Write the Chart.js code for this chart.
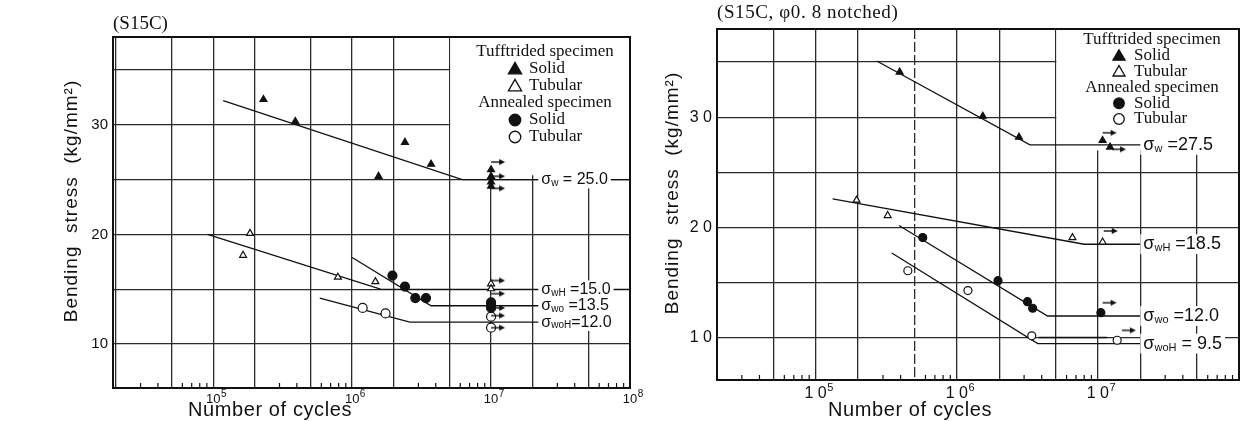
<!DOCTYPE html>
<html>
<head>
<meta charset="utf-8">
<script src="https://cdn.jsdelivr.net/npm/chart.js@4.4.1/dist/chart.umd.min.js"></script>
<style>
  html, body { margin: 0; padding: 0; background: #fff; }
  #wrap { position: relative; width: 1255px; height: 421px; overflow: hidden; }
  .box { position: absolute; top: 0; height: 421px; }
  #left-box { left: 0; width: 650px; }
  #right-box { left: 645px; width: 610px; }
</style>
</head>
<body>
<div id="wrap">
  <div class="box" id="left-box"><canvas id="left"></canvas></div>
  <div class="box" id="right-box"><canvas id="right"></canvas></div>
</div>
<script>
// ---------- data: left chart (S15C) ----------
// points are [cycles, stress kg/mm2]
const leftTuffSolid = [[2.3e5, 32.3], [3.9e5, 30.3], [1.55e6, 25.3], [2.4e6, 28.4], [3.7e6, 26.4],
                       [1e7, 25.9], [1e7, 25.3], [1e7, 24.8], [1e7, 24.4]];
const leftTuffTubular = [[1.84e5, 20.1], [1.64e5, 18.1], [7.9e5, 16.1], [1.47e6, 15.7], [1e7, 15.5], [1e7, 15.05]];
const leftAnnSolid = [[1.95e6, 16.25], [2.4e6, 15.25], [2.85e6, 14.2], [3.4e6, 14.2], [1e7, 13.8], [1e7, 13.5], [1e7, 13.3]];
const leftAnnTubular = [[1.19e6, 13.3], [1.74e6, 12.8], [1e7, 12.5], [1e7, 11.5]];
const leftRunouts = [[1e7, 26.6], [1e7, 25.3], [1e7, 24.2], [1e7, 15.8], [1e7, 14.6], [1e7, 13.3], [1e7, 12.6], [1e7, 11.5]];

const leftCurveTuffSolid = [[1.18e5, 32.2], [6.2e6, 25.0], [1e8, 25.0]];
const leftCurveTuffTubular = [[9.1e4, 20.0], [1.62e6, 15.0], [1e8, 15.0]];
const leftCurveAnnSolid = [[1e6, 17.9], [3.7e6, 13.5], [2.3e7, 13.5]];
const leftCurveAnnTubular = [[5.85e5, 14.2], [2.6e6, 12.0], [2.3e7, 12.0]];

const leftLimits = [25.0, 15.0, 13.5, 12.0];
const leftLimitSubs = ['w', 'wH', 'wo', 'woH'];
const leftLimitTexts = [' = 25.0', ' =15.0', ' =13.5', '=12.0'];

const leftXDecades = [1e5, 1e6, 1e7, 1e8];
const leftXBase = ['10', '10', '10', '10'];
const leftXExp = ['5', '6', '7', '8'];
const leftYTicks = [10, 20, 30];
const leftYLabels = ['10', '20', '30'];

// ---------- data: right chart (S15C, notched) ----------
const rightTuffSolid = [[3.94e5, 34.1], [1.53e6, 30.1], [2.76e6, 28.2], [1.08e7, 27.9], [1.22e7, 27.3]];
const rightTuffTubular = [[1.95e5, 22.5], [3.24e5, 21.1], [6.6e6, 19.1], [1.08e7, 18.7]];
const rightAnnSolid = [[5.74e5, 19.1], [1.96e6, 15.2], [3.17e6, 13.3], [3.45e6, 12.7], [1.05e7, 12.3]];
const rightAnnTubular = [[4.5e5, 16.1], [1.2e6, 14.3], [3.4e6, 10.2], [1.37e7, 9.8]];
const rightRunouts = [[1.08e7, 28.6], [1.26e7, 27.1], [1.1e7, 19.7], [1.08e7, 13.2], [1.48e7, 10.7]];

const rightCurveTuffSolid = [[2.71e5, 35.1], [3.3e6, 27.5], [2.1e7, 27.5]];
const rightCurveTuffTubular = [[1.32e5, 22.6], [8.0e6, 18.5], [2.1e7, 18.5]];
const rightCurveAnnSolid = [[3.9e5, 20.2], [4.4e6, 12.0], [2.1e7, 12.0]];
const rightCurveAnnTubular = [[3.46e5, 17.7], [3.75e6, 9.5], [2.1e7, 9.5]];
const rightCurveAnnTubular2 = [[3.8e6, 10.05], [1.16e7, 10.05]];

const rightLimits = [27.5, 18.5, 12.0, 9.5];
const rightLimitSubs = ['w', 'wH', 'wo', 'woH'];
const rightLimitTexts = [' =27.5', ' =18.5', ' =12.0', ' = 9.5'];

const rightXDecades = [1e5, 1e6, 1e7];
const rightXBase = ['1 0', '1 0', '1 0'];
const rightXExp = ['5', '6', '7'];
const rightYTicks = [10, 20, 30];
const rightYLabels = ['1 0', '2 0', '3 0'];

const yGrid = [10, 15, 20, 25, 30, 35];
const gridMantissas = [1, 2, 5];
const minorMantissas = [3, 4, 6, 7, 8, 9];
const decades = [1e4, 1e5, 1e6, 1e7, 1e8];

const legendRows = [
  { head: 'Tufftrided specimen' },
  { marker: 'triFill', text: 'Solid' },
  { marker: 'triOpen', text: 'Tubular' },
  { head: 'Annealed specimen' },
  { marker: 'dotFill', text: 'Solid' },
  { marker: 'dotOpen', text: 'Tubular' }
];

const INK = '#111';
const SANS = '"Liberation Sans", Arial, sans-serif';
const SERIF = '"Liberation Serif", "Times New Roman", serif';

function logValues(mants, min, max) {
  const out = [];
  decades.forEach(d => mants.forEach(m => {
    const v = m * d;
    if (v > min && v <= max) out.push(v);
  }));
  return out;
}

function pts(arr) { return arr.map(p => ({ x: p[0], y: p[1] })); }

function lineDs(arr) {
  return { data: pts(arr), showLine: true, borderColor: INK, borderWidth: 1.3, pointRadius: 0, fill: false };
}

function markDs(arr, style, filled, r) {
  return {
    data: pts(arr), showLine: false, pointStyle: style, pointRadius: r,
    pointBackgroundColor: filled ? INK : '#fff', pointBorderColor: INK, pointBorderWidth: 1.2
  };
}

function makeArrow() {
  const c = document.createElement('canvas');
  c.width = 30; c.height = 10;
  const g = c.getContext('2d');
  g.strokeStyle = INK; g.fillStyle = INK; g.lineWidth = 1.4;
  g.beginPath(); g.moveTo(15, 5); g.lineTo(25, 5); g.stroke();
  g.beginPath(); g.moveTo(29, 5); g.lineTo(23, 2); g.lineTo(23, 8); g.closePath(); g.fill();
  return c;
}
const arrowImg = makeArrow();

function drawMarker(ctx, kind, x, y, s) {
  ctx.save();
  ctx.lineWidth = 1.3; ctx.strokeStyle = INK; ctx.fillStyle = kind.endsWith('Fill') ? INK : '#fff';
  ctx.beginPath();
  if (kind.startsWith('tri')) {
    ctx.moveTo(x, y - s * 0.55); ctx.lineTo(x + s * 0.55, y + s * 0.4); ctx.lineTo(x - s * 0.55, y + s * 0.4); ctx.closePath();
  } else {
    ctx.arc(x, y, s * 0.48, 0, Math.PI * 2);
  }
  ctx.fill(); ctx.stroke();
  ctx.restore();
}

function sigmaLabel(ctx, x, y, sub, rest, size) {
  const main = size + 'px ' + SANS;
  const small = Math.round(size * 0.62) + 'px ' + SANS;
  ctx.save();
  ctx.textBaseline = 'middle'; ctx.textAlign = 'left';
  ctx.font = main; const w1 = ctx.measureText('σ').width; const w3 = ctx.measureText(rest).width;
  ctx.font = small; const w2 = ctx.measureText(sub).width;
  ctx.fillStyle = '#fff';
  ctx.fillRect(x - 3, y - size * 0.55, w1 + w2 + w3 + 6, size * 1.1);
  ctx.fillStyle = INK;
  ctx.font = main; ctx.fillText('σ', x, y);
  ctx.font = small; ctx.fillText(sub, x + w1, y + size * 0.22);
  ctx.font = main; ctx.fillText(rest, x + w1 + w2, y);
  ctx.restore();
}

const decorPlugin = {
  id: 'decor',
  beforeDatasetsDraw(chart, args, o) {
    const { ctx, chartArea: a, scales } = chart;
    ctx.save();
    // blank area behind the legend
    const bx = scales.x.getPixelForValue(5e6) + 1;
    const by = scales.y.getPixelForValue(o.boxBottom);
    ctx.fillStyle = '#fff';
    ctx.fillRect(bx, a.top, a.right - bx, by - a.top);
    // minor ticks along the bottom, pointing inwards
    ctx.strokeStyle = INK; ctx.lineWidth = 1.2;
    logValues(minorMantissas, o.xMin, o.xMax).forEach(v => {
      const px = scales.x.getPixelForValue(v);
      ctx.beginPath(); ctx.moveTo(px, a.bottom); ctx.lineTo(px, a.bottom - 5); ctx.stroke();
    });
    ctx.restore();
  },
  afterDatasetsDraw(chart, args, o) {
    const { ctx, chartArea: a, scales } = chart;
    ctx.save();
    // endurance limit labels
    o.limits.forEach((lv, i) => {
      sigmaLabel(ctx, scales.x.getPixelForValue(o.sigmaX), scales.y.getPixelForValue(lv), o.subs[i], o.texts[i], o.sigmaSize);
    });
    // decade labels with raised exponent
    ctx.fillStyle = INK; ctx.textBaseline = 'alphabetic';
    o.decades.forEach((d, i) => {
      const px = scales.x.getPixelForValue(d);
      ctx.font = o.tickSize + 'px ' + SANS;
      ctx.textAlign = 'center';
      ctx.fillText(o.base[i], px, a.bottom + o.tickBase);
      const w = ctx.measureText(o.base[i]).width;
      ctx.font = o.expSize + 'px ' + SANS;
      ctx.textAlign = 'left';
      ctx.fillText(o.exp[i], px + w / 2 + 0.5, a.bottom + o.tickBase - o.expRise);
    });
    // legend
    ctx.textBaseline = 'middle';
    ctx.font = o.legendSize + 'px ' + SERIF;
    legendRows.forEach((r, i) => {
      const y = a.top + o.legendTop + i * o.legendStep;
      if (r.head) {
        ctx.textAlign = 'center';
        ctx.fillText(r.head, a.right - o.legendCx, y);
      } else {
        drawMarker(ctx, r.marker, a.right - o.markerDx, y, o.markerSize);
        ctx.textAlign = 'left';
        ctx.fillStyle = INK;
        ctx.fillText(r.text, a.right - o.textDx, y);
      }
    });
    // frame
    ctx.strokeStyle = INK; ctx.lineWidth = 2;
    ctx.strokeRect(a.left, a.top, a.right - a.left, a.bottom - a.top);
    // titles
    ctx.textBaseline = 'middle';
    ctx.textAlign = 'left';
    ctx.font = o.titleSize + 'px ' + SERIF;
    ctx.letterSpacing = o.titleSpacing;
    ctx.fillText(o.title, a.left, o.titleY);
    ctx.letterSpacing = '0.6px';
    ctx.font = '20px ' + SANS;
    ctx.textAlign = 'center';
    ctx.fillText('Number of cycles', o.xTitleX, o.xTitleY);
    ctx.save();
    ctx.translate(o.yTitleX, o.yTitleY);
    ctx.rotate(-Math.PI / 2);
    ctx.font = '19px ' + SANS;
    ctx.letterSpacing = '1px';
    ctx.fillText('Bending  stress  (kg/mm²)', 0, 0);
    ctx.restore();
    ctx.restore();
  }
};

function buildChart(id, c) {
  const xTicks = logValues(gridMantissas, c.xMin, c.xMax);
  return new Chart(document.getElementById(id), {
    type: 'scatter',
    data: {
      datasets: [
        { data: pts(c.runouts), showLine: false, pointStyle: arrowImg, pointRadius: 5 },
        markDs(c.tuffSolid, 'triangle', true, c.triR),
        markDs(c.tuffTubular, 'triangle', false, c.triR),
        markDs(c.annSolid, 'circle', true, c.dotR),
        markDs(c.annTubular, 'circle', false, c.dotR)
      ].concat(c.curves.map(lineDs))
    },
    options: {
      responsive: true,
      maintainAspectRatio: false,
      animation: false,
      events: [],
      layout: { padding: { top: c.padTop, right: c.padRight, left: 0, bottom: 0 } },
      plugins: {
        legend: { display: false },
        tooltip: { enabled: false },
        decor: c.decor
      },
      scales: {
        x: {
          type: 'logarithmic', min: c.xMin, max: c.xMax,
          afterBuildTicks: s => { s.ticks = xTicks.map(v => ({ value: v })); },
          afterFit: s => { s.height = c.xHeight; s.paddingLeft = 0; s.paddingRight = 0; },
          grid: { color: '#2b2b2b', lineWidth: 1.3, drawTicks: false },
          border: { display: false, dash: ctx => (c.dashedX && ctx.tick && ctx.tick.value === c.dashedX ? [10, 3] : []) },
          ticks: { display: false, autoSkip: false }
        },
        y: {
          type: 'linear', min: c.yMin, max: c.yMax,
          afterBuildTicks: s => { s.ticks = yGrid.map(v => ({ value: v })); },
          afterFit: s => { s.width = c.yWidth; s.paddingTop = 0; s.paddingBottom = 0; },
          grid: { color: '#2b2b2b', lineWidth: 1.3, drawTicks: false },
          border: { display: false },
          ticks: {
            padding: 5, color: INK,
            font: { family: SANS, size: c.yTickSize },
            callback: v => { const i = c.yTicks.indexOf(v); return i < 0 ? '' : c.yLabels[i]; }
          }
        }
      }
    },
    plugins: [decorPlugin]
  });
}

buildChart('left', {
  xMin: 1.9e4, xMax: 1e8, yMin: 6, yMax: 38,
  padTop: 37, padRight: 20, yWidth: 113, xHeight: 33,
  yTickSize: 15, yTicks: leftYTicks, yLabels: leftYLabels,
  tuffSolid: leftTuffSolid, tuffTubular: leftTuffTubular, annSolid: leftAnnSolid, annTubular: leftAnnTubular,
  runouts: leftRunouts, triR: 4, dotR: 4.5,
  curves: [leftCurveTuffSolid, leftCurveTuffTubular, leftCurveAnnSolid, leftCurveAnnTubular],
  decor: {
    xMin: 1.9e4, xMax: 1e8, boxBottom: 25.4,
    decades: leftXDecades, base: leftXBase, exp: leftXExp, tickSize: 13, expSize: 10, tickBase: 15, expRise: 6,
    limits: leftLimits, subs: leftLimitSubs, texts: leftLimitTexts, sigmaX: 2.3e7, sigmaSize: 16,
    legendSize: 17, legendTop: 15, legendStep: 17, legendCx: 85, markerDx: 115, textDx: 101, markerSize: 12,
    title: '(S15C)', titleSize: 19, titleSpacing: '0px', titleY: 24,
    xTitleX: 270, xTitleY: 410, yTitleX: 72, yTitleY: 201
  }
});

buildChart('right', {
  xMin: 2.0e4, xMax: 1e8, yMin: 6.2, yMax: 38,
  padTop: 29, padRight: 16, yWidth: 72, xHeight: 41, dashedX: 5e5,
  yTickSize: 16, yTicks: rightYTicks, yLabels: rightYLabels,
  tuffSolid: rightTuffSolid, tuffTubular: rightTuffTubular, annSolid: rightAnnSolid, annTubular: rightAnnTubular,
  runouts: rightRunouts, triR: 4, dotR: 4,
  curves: [rightCurveTuffSolid, rightCurveTuffTubular, rightCurveAnnSolid, rightCurveAnnTubular, rightCurveAnnTubular2],
  decor: {
    xMin: 2.0e4, xMax: 1e8, boxBottom: 27.0,
    decades: rightXDecades, base: rightXBase, exp: rightXExp, tickSize: 16, expSize: 11, tickBase: 18, expRise: 7,
    limits: rightLimits, subs: rightLimitSubs, texts: rightLimitTexts, sigmaX: 2.1e7, sigmaSize: 18,
    legendSize: 17, legendTop: 11, legendStep: 15.8, legendCx: 87, markerDx: 120, textDx: 105, markerSize: 11,
    title: '(S15C, φ0. 8 notched)', titleSize: 19, titleSpacing: '0.6px', titleY: 13,
    xTitleX: 265, xTitleY: 410, yTitleX: 28, yTitleY: 193
  }
});
</script>
</body>
</html>
